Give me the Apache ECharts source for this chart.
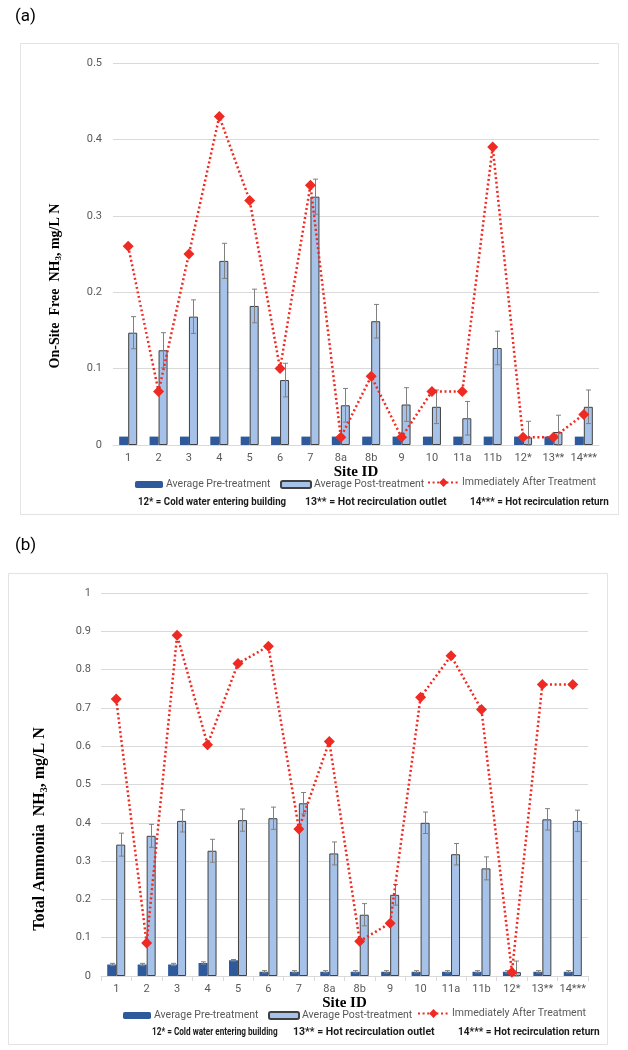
<!DOCTYPE html>
<html>
<head>
<meta charset="utf-8">
<script src="https://cdn.jsdelivr.net/npm/echarts@6/dist/echarts.min.js"></script>
<style>
html,body{margin:0;padding:0;background:#fff;}
#c{width:628px;height:1050px;}
</style>
</head>
<body>
<div id="c"></div>
<script>
var sites = ['1','2','3','4','5','6','7','8a','8b','9','10','11a','11b','12*','13**','14***'];

// (a) On-site free NH3
var aPre     = [0.011,0.011,0.011,0.011,0.011,0.011,0.011,0.011,0.011,0.011,0.011,0.011,0.011,0.011,0.011,0.011];
var aPost    = [0.147,0.124,0.168,0.241,0.182,0.085,0.325,0.052,0.162,0.053,0.050,0.035,0.127,0.010,0.017,0.050];
var aPostErr = [0.021,0.023,0.022,0.023,0.022,0.022,0.023,0.022,0.022,0.022,0.022,0.022,0.022,0.021,0.022,0.022];
var aAfter   = [0.26,0.07,0.25,0.43,0.32,0.10,0.34,0.01,0.09,0.01,0.07,0.07,0.39,0.01,0.01,0.04];

// (b) Total ammonia
var bPre     = [0.030,0.030,0.030,0.034,0.041,0.011,0.011,0.011,0.011,0.011,0.011,0.011,0.011,0.011,0.011,0.011];
var bPreErr  = [0.003,0.003,0.003,0.003,0.002,0.003,0.003,0.003,0.003,0.003,0.003,0.003,0.003,0.003,0.003,0.003];
var bPost    = [0.343,0.366,0.405,0.327,0.407,0.412,0.451,0.320,0.160,0.212,0.400,0.318,0.281,0.010,0.409,0.405];
var bPostErr = [0.030,0.030,0.029,0.030,0.029,0.029,0.028,0.030,0.029,0.027,0.028,0.028,0.030,0.029,0.028,0.028];
var bAfter   = [0.723,0.086,0.890,0.604,0.816,0.861,0.384,0.612,0.091,0.138,0.728,0.836,0.696,0.010,0.761,0.761];

var yTicksA = {min:0, max:0.5, interval:0.1};
var yTicksB = {min:0, max:1, interval:0.1};

var notes = ['12* = Cold water entering building','13** = Hot recirculation outlet','14*** = Hot recirculation return'];

var NAME_PRE = 'Average Pre-treatment';
var NAME_POST = 'Average Post-treatment';
var NAME_AFTER = 'Immediately After Treatment';

var DARK = '#2E5A9C';
var LIGHT = '#A7C2E8';
var RED = '#EE2A22';
var GRAYTXT = '#595959';
var SANS = 'Roboto, "Liberation Sans", sans-serif';
var SERIF = '"Liberation Serif", "DejaVu Serif", serif';
var BW = 9;

function errData(vals, errs){
  return vals.map(function(v,i){ return [i, Math.max(0, v - errs[i]), v + errs[i]]; });
}
function errRender(offset){
  return function(params, api){
    var i = api.value(0);
    var lo = api.coord([i, api.value(1)]);
    var hi = api.coord([i, api.value(2)]);
    var cx = Math.round(lo[0] + offset) + 0.5;
    var hw = 2.5;
    var st = {stroke:'#808080', lineWidth:1};
    return {type:'group', children:[
      {type:'line', shape:{x1:cx, y1:lo[1], x2:cx, y2:hi[1]}, style:st},
      {type:'line', shape:{x1:cx-hw, y1:hi[1], x2:cx+hw, y2:hi[1]}, style:st},
      {type:'line', shape:{x1:cx-hw, y1:lo[1], x2:cx+hw, y2:lo[1]}, style:st}
    ]};
  };
}

function xAxisDef(gi, showTick){
  return {
    type:'category', gridIndex:gi, data:sites,
    axisLine:{show:true, lineStyle:{color:'#D9D9D9', width:1}},
    axisTick:{show:showTick, alignWithLabel:false, length:5, lineStyle:{color:'#D9D9D9'}},
    axisLabel:{color:GRAYTXT, fontSize:11, fontFamily:SANS, margin:8, interval:0},
    name:'Site ID', nameLocation:'middle', nameGap:17,
    nameTextStyle:{fontFamily:SERIF, fontWeight:'bold', fontSize:15, color:'#000', verticalAlign:'top'}
  };
}
function yAxisDef(gi, t, margin){
  return {
    type:'value', gridIndex:gi, min:t.min, max:t.max, interval:t.interval,
    axisLine:{show:false}, axisTick:{show:false},
    axisLabel:{color:GRAYTXT, fontSize:11, fontFamily:SANS, margin:margin},
    splitLine:{lineStyle:{color:'#D9D9D9', width:1}}
  };
}

function legendDef(name, left, top, w, h){
  return {
    data:[name], left:left, top:top, itemWidth:w, itemHeight:h, itemGap:0,
    padding:0, selectedMode:false,
    textStyle:{color:GRAYTXT, fontSize:10.5, fontFamily:SANS, padding:[0,0,0,-2]}
  };
}

function note(txt, x, y, sx){
  return {type:'text', x:x, y:y, scaleX:sx,
    style:{text:txt, font:'bold 10.5px '+SANS, fill:'#1a1a1a', verticalAlign:'middle'}};
}

var option = {
  animation:false,
  grid:[
    {left:113, right:29, top:63, bottom:605},
    {left:101, right:40, top:593, bottom:74}
  ],
  xAxis:[xAxisDef(0,false), xAxisDef(1,true)],
  yAxis:[yAxisDef(0, yTicksA, 11), yAxisDef(1, yTicksB, 10)],
  legend:[
    legendDef(NAME_PRE, 135, 479, 28, 7),
    legendDef(NAME_POST, 280, 479, 30, 7),
    legendDef(NAME_AFTER, 427, 477, 31, 11),
    legendDef(NAME_PRE, 123, 1010, 28, 7),
    legendDef(NAME_POST, 268, 1010, 30, 7),
    legendDef(NAME_AFTER, 417, 1008, 31, 11)
  ],
  graphic:[
    {type:'rect', shape:{x:20.5, y:43.5, width:598, height:471}, style:{fill:'none', stroke:'#E3E3E3', lineWidth:1}, silent:true},
    {type:'rect', shape:{x:8.5, y:573.5, width:599, height:471}, style:{fill:'none', stroke:'#E3E3E3', lineWidth:1}, silent:true},
    {type:'text', x:15, y:17, style:{text:'(a)', font:'17px '+SANS, fill:'#000', verticalAlign:'middle'}},
    {type:'text', x:15, y:546, style:{text:'(b)', font:'17px '+SANS, fill:'#000', verticalAlign:'middle'}},
    {type:'text', x:55, y:286, rotation:Math.PI/2,
      style:{text:'{a|On-Site  Free  NH}{s|3}{a|, mg/L N}', align:'center', verticalAlign:'middle',
        rich:{a:{fontFamily:SERIF, fontWeight:'bold', fontSize:14, fill:'#000', lineHeight:16, verticalAlign:'middle'},
              s:{fontFamily:SERIF, fontWeight:'bold', fontSize:9, fill:'#000', lineHeight:16, verticalAlign:'bottom'}}}},
    {type:'text', x:40, y:829, rotation:Math.PI/2,
      style:{text:'{a|Total Ammonia  NH}{s|3}{a|, mg/L N}', align:'center', verticalAlign:'middle',
        rich:{a:{fontFamily:SERIF, fontWeight:'bold', fontSize:16, fill:'#000', lineHeight:18, verticalAlign:'middle'},
              s:{fontFamily:SERIF, fontWeight:'bold', fontSize:10, fill:'#000', lineHeight:18, verticalAlign:'bottom'}}}},
    note(notes[0], 138, 502, 0.92),
    note(notes[1], 305, 502, 1.0),
    note(notes[2], 470, 502, 0.94),
    note(notes[0], 152, 1032, 0.78),
    note(notes[1], 293, 1032, 1.0),
    note(notes[2], 458, 1032, 0.96)
  ],
  series:[
    {name:NAME_PRE, type:'bar', xAxisIndex:0, yAxisIndex:0, data:aPre, barWidth:BW, barGap:'0%',
      itemStyle:{color:DARK}, z:2},
    {name:NAME_POST, type:'bar', xAxisIndex:0, yAxisIndex:0, data:aPost, barWidth:BW, barGap:'0%',
      itemStyle:{color:LIGHT, borderColor:'#404040', borderWidth:1}, z:2},
    {type:'custom', xAxisIndex:0, yAxisIndex:0, data:errData(aPost, aPostErr), renderItem:errRender(BW/2),
      encode:{x:0, y:[1,2]}, z:3, silent:true},
    {name:NAME_AFTER, type:'line', xAxisIndex:0, yAxisIndex:0, data:aAfter,
      symbol:'diamond', symbolSize:11, itemStyle:{color:RED},
      lineStyle:{color:RED, width:2.5, type:[2,2.6]}, z:5},

    {name:NAME_PRE, type:'bar', xAxisIndex:1, yAxisIndex:1, data:bPre, barWidth:BW, barGap:'0%',
      itemStyle:{color:DARK}, z:2},
    {name:NAME_POST, type:'bar', xAxisIndex:1, yAxisIndex:1, data:bPost, barWidth:BW, barGap:'0%',
      itemStyle:{color:LIGHT, borderColor:'#404040', borderWidth:1}, z:2},
    {type:'custom', xAxisIndex:1, yAxisIndex:1, data:errData(bPre, bPreErr), renderItem:errRender(-BW/2),
      encode:{x:0, y:[1,2]}, z:3, silent:true},
    {type:'custom', xAxisIndex:1, yAxisIndex:1, data:errData(bPost, bPostErr), renderItem:errRender(BW/2),
      encode:{x:0, y:[1,2]}, z:3, silent:true},
    {name:NAME_AFTER, type:'line', xAxisIndex:1, yAxisIndex:1, data:bAfter,
      symbol:'diamond', symbolSize:11, itemStyle:{color:RED},
      lineStyle:{color:RED, width:2.5, type:[2,2.6]}, z:5}
  ]
};

var chart = echarts.init(document.getElementById('c'), null, {renderer:'canvas'});
chart.setOption(option);
</script>
</body>
</html>
